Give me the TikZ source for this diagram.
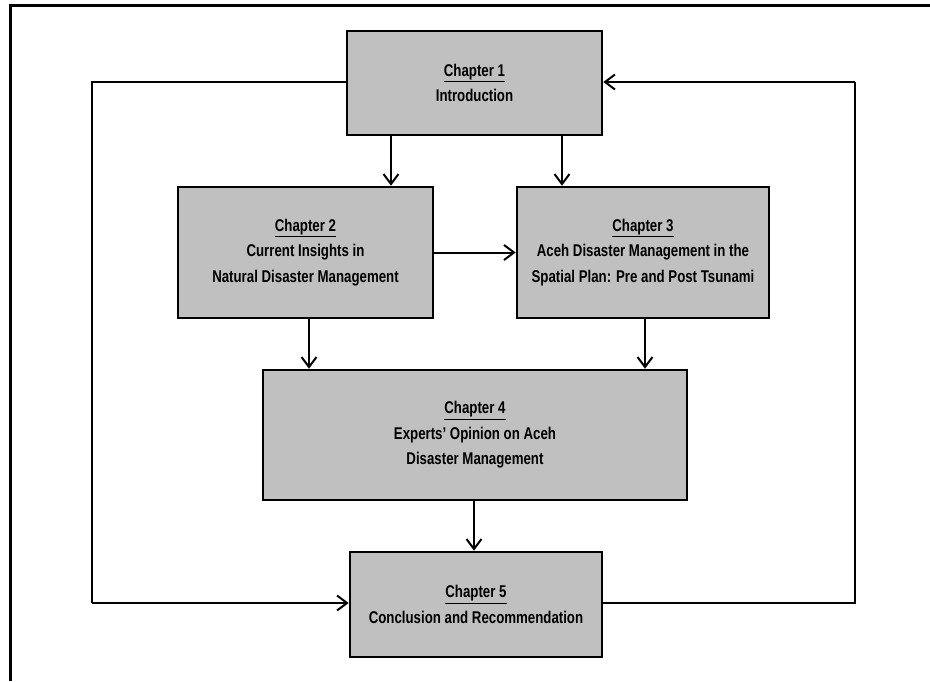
\documentclass[tikz,border=0pt]{standalone}
\usepackage{fontspec}
\setmainfont{Liberation Sans}[FakeStretch=0.78]
\usetikzlibrary{arrows.meta}
\definecolor{boxgray}{RGB}{192,192,192}
\begin{document}
\begin{tikzpicture}[x=1pt,y=-1pt,
  chap/.style={draw=black, line width=2.6pt, fill=boxgray, inner sep=0pt, align=center,
    font=\fontsize{17}{25.5}\selectfont\bfseries},
  arr/.style={-{Straight Barb[length=10pt,width=15pt,line width=2pt]}, line width=2pt},
  loopline/.style={line width=1.1pt},
  frame/.style={line width=2.7pt}]
\useasboundingbox (0,0) rectangle (930,681);
\draw[frame] (10.3,681) -- (10.3,5.3) -- (930,5.3);

\node[chap, minimum width=255pt, minimum height=104pt] (c1) at (474.5,83)
  {\underline{Chapter 1}\\Introduction};
\node[chap, minimum width=255pt, minimum height=131pt] (c2) at (305.5,252.5)
  {\underline{Chapter 2}\\Current Insights in\\Natural Disaster Management};
\node[chap, minimum width=252pt, minimum height=131pt] (c3) at (643,252.5)
  {\underline{Chapter 3}\\Aceh Disaster Management in the\\Spatial Plan: Pre and Post Tsunami};
\node[chap, minimum width=424pt, minimum height=130pt] (c4) at (475,435)
  {\underline{Chapter 4}\\Experts' Opinion on Aceh\\Disaster Management};
\node[chap, minimum width=252pt, minimum height=105pt] (c5) at (476,604.5)
  {\underline{Chapter 5}\\Conclusion and Recommendation};

\draw[arr] (391,0 |- c1.south) -- (391,0 |- c2.north);
\draw[arr] (562,0 |- c1.south) -- (562,0 |- c3.north);
\draw[arr] (c2.east) -- (c3.west);
\draw[arr] (309,0 |- c2.south) -- (309,0 |- c4.north);
\draw[arr] (645,0 |- c3.south) -- (645,0 |- c4.north);
\draw[arr] (474,0 |- c4.south) -- (474,0 |- c5.north);

\coordinate (L1) at (92,82);
\coordinate (L2) at (92,603);
\coordinate (R1) at (855,82);
\coordinate (R2) at (855,603);
\draw[loopline] (c1.west |- L1) -- (L1) -- (L2);
\draw[arr, line width=2.4pt] (L2) -- (c5.west |- L2);
\draw[loopline] (c5.east |- R2) -- (R2) -- (R1);
\draw[arr, line width=2.4pt] (R1) -- (c1.east |- R1);
\end{tikzpicture}
\end{document}
